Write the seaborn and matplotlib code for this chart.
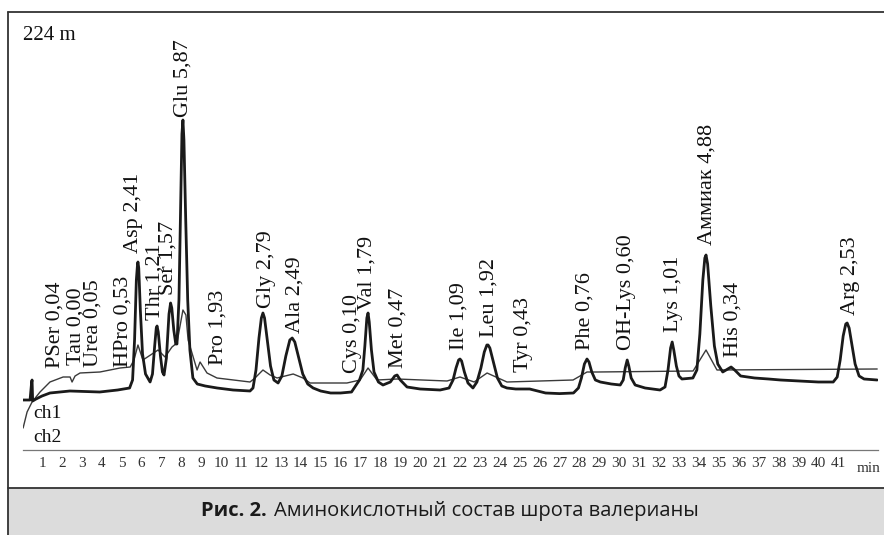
import numpy as np
import pandas as pd
import matplotlib
matplotlib.use("Agg")
import matplotlib.pyplot as plt
from matplotlib.patches import Rectangle
from matplotlib.lines import Line2D
from matplotlib.ticker import MultipleLocator
import seaborn as sns

# --- chromatogram data (time in min, detector response in arbitrary units) ---
ch1_time = [
    0.05, 0.40, 0.48, 0.50, 0.53, 0.70, 1.00, 1.40, 2.40, 3.90, 4.80, 5.40, 5.55,
    5.65, 5.74, 5.80, 5.82, 5.86, 5.94, 6.05, 6.20, 6.43,
    6.55, 6.66, 6.74, 6.78, 6.84, 6.95, 7.05, 7.13,
    7.25, 7.38, 7.46, 7.52, 7.62, 7.72, 7.78,
    7.88, 7.96, 8.03, 8.08, 8.13, 8.22, 8.32, 8.43, 8.58, 8.80, 9.20, 9.80, 10.6, 11.45,
    11.60, 11.75, 11.90, 12.02, 12.10, 12.18, 12.32, 12.48, 12.65, 12.86,
    13.05, 13.25, 13.45, 13.57, 13.70, 13.90, 14.10, 14.35, 14.62, 15.0, 15.5, 16.0,
    16.55, 16.75, 16.95,
    17.12, 17.22, 17.32, 17.38, 17.44, 17.55, 17.68, 17.90, 18.13,
    18.5, 18.72, 18.84, 19.0, 19.34, 20.0, 21.0, 21.45,
    21.65, 21.80, 21.93, 22.00, 22.08, 22.22, 22.40, 22.65,
    22.85, 23.05, 23.22, 23.35, 23.41, 23.50, 23.68, 23.88, 24.10, 24.36, 24.8, 25.5,
    26.3, 27.0, 27.7, 27.95,
    28.10, 28.25, 28.38, 28.48, 28.62, 28.80, 29.05, 29.6, 30.05,
    30.20, 30.30, 30.40, 30.48, 30.60, 30.80, 31.3, 32.05, 32.30,
    32.45, 32.58, 32.66, 32.74, 32.87, 33.00, 33.15, 33.70, 33.90,
    34.05, 34.20, 34.30, 34.36, 34.44, 34.60, 34.78, 34.95, 35.20,
    35.45, 35.62, 35.80, 36.10, 36.8, 37.5, 38.1, 39.0, 40.0, 40.75,
    40.95, 41.10, 41.25, 41.38, 41.45, 41.55, 41.70, 41.85, 42.05, 42.30, 42.96,
]
ch1_signal = [
    25.0, 25.0, 34.0, 35.0, 24.5, 25.5, 27.0, 28.5, 29.5, 29.0, 30.0, 31.0, 35.0,
    55.0, 85.0, 93.0, 94.0, 91.0, 70.0, 48.0, 38.0, 34.0,
    38.0, 52.0, 61.0, 62.0, 59.0, 47.0, 39.0, 37.5,
    46.0, 68.0, 73.5, 71.0, 60.0, 53.0, 53.0,
    75.0, 120.0, 158.0, 165.0, 155.0, 115.0, 75.0, 50.0, 36.0, 33.0, 32.0, 31.0, 30.0, 29.5,
    31.0, 40.0, 56.0, 66.0, 68.5, 66.0, 55.0, 42.0, 35.0, 33.5,
    37.0, 47.0, 55.0, 56.0, 54.0, 46.0, 38.0, 33.0, 31.0, 29.5, 28.5, 28.5,
    29.0, 32.0, 35.0,
    40.0, 52.0, 66.0, 68.5, 64.0, 50.0, 39.0, 34.0, 32.5,
    34.0, 37.0, 37.5, 35.0, 31.5, 30.5, 30.0, 31.0,
    35.0, 41.0, 45.0, 45.5, 44.5, 39.0, 33.5, 31.0,
    34.0, 41.0, 49.0, 52.5, 52.5, 51.0, 44.0, 36.0, 32.0, 31.0, 30.5, 30.5,
    28.5, 28.2, 28.5, 31.0,
    36.0, 43.0, 45.5, 44.0, 39.0, 35.0, 34.0, 33.0, 32.5,
    35.0, 41.0, 45.0, 42.0, 36.0, 32.5, 31.0, 30.0, 31.5,
    40.0, 51.0, 54.0, 50.0, 42.0, 37.0, 35.5, 36.0, 40.0,
    58.0, 85.0, 96.0, 97.5, 93.0, 72.0, 52.0, 43.0, 39.0,
    40.5, 41.5, 40.0, 37.0, 36.0, 35.5, 35.0, 34.5, 34.0, 34.0,
    36.5, 45.0, 57.0, 63.0, 63.5, 61.0, 52.0, 43.0, 37.0, 35.5, 35.0,
]

ch2_time = [
    0.05, 0.25, 0.50, 0.90, 1.40, 2.06, 2.41, 2.51, 2.66, 2.91, 3.91, 4.92, 5.43,
    5.62, 5.82, 6.07, 6.83, 7.18, 7.53, 7.78, 8.08, 8.23, 8.34, 8.79, 8.94, 9.29,
    9.79, 11.45, 11.70, 12.10, 12.46, 12.81, 13.62, 14.11, 14.47, 16.32, 16.98,
    17.38, 17.83, 18.84, 21.35, 22.00, 22.71, 23.36, 24.36, 27.68, 28.38, 28.88,
    33.71, 34.36, 34.91, 42.96,
]
ch2_signal = [
    11.0, 19.0, 24.0, 29.0, 34.0, 36.5, 36.5, 34.0, 37.0, 38.5, 39.0, 41.0, 41.5,
    45.0, 52.5, 45.0, 50.0, 46.5, 51.5, 53.5, 70.0, 67.5, 55.0, 40.0, 44.0, 38.5,
    36.0, 34.0, 36.0, 40.0, 37.5, 36.0, 38.0, 36.0, 33.5, 33.5, 35.0,
    41.0, 35.0, 35.5, 34.5, 36.5, 34.0, 38.5, 34.0, 35.0, 39.0, 39.0,
    39.5, 50.0, 40.0, 40.5,
]

# --- peak annotations ---
compounds = ["PSer", "Tau", "Urea", "HPro", "Asp", "Thr", "Ser", "Glu", "Pro",
             "Gly", "Ala", "Cys", "Val", "Met", "Ile", "Leu", "Tyr", "Phe",
             "OH-Lys", "Lys", "Аммиак", "His", "Arg"]
amounts = [0.04, 0.00, 0.05, 0.53, 2.41, 1.21, 1.57, 5.87, 1.93,
           2.79, 2.49, 0.10, 1.79, 0.47, 1.09, 1.92, 0.43, 0.76,
           0.60, 1.01, 4.88, 0.34, 2.53]
retention = [1.65, 2.71, 3.56, 5.07, 5.62, 6.68, 7.33, 8.08, 9.84,
             12.26, 13.71, 16.58, 17.33, 18.89, 21.95, 23.46, 25.17, 28.29,
             30.35, 32.71, 34.42, 35.72, 41.60]

# label placement (bottom of each rotated label, response units)
label_base = [41, 42.5, 41.5, 41.5, 98.5, 65, 77.5, 166.5, 42.5,
              71, 58.5, 38.5, 70, 41, 50, 56.5, 39, 50,
              50, 59, 102.5, 46.5, 67.5]

sns.set_style("white")
plt.rcParams["font.family"] = ["Liberation Serif", "DejaVu Serif"]

W, H = 884, 535
fig = plt.figure(figsize=(W / 100, H / 100), dpi=100)

# caption band and frame
fig.patches.append(Rectangle((8 / W, 0), 1 - 8 / W, 1 - 488 / H,
                             transform=fig.transFigure, facecolor="#dcdcdc",
                             edgecolor="none", zorder=0))
for xs, ys in [([8, 8], [0, H - 12]), ([8, W], [H - 12, H - 12]),
               ([8, W], [H - 488, H - 488])]:
    fig.lines.append(Line2D([x / W for x in xs], [y / H for y in ys],
                            transform=fig.transFigure, color="#333333", lw=1.3))

ax = fig.add_axes([23 / W, 1 - 450 / H, (878 - 23) / W, (450 - 12) / H])
ax.set_facecolor("none")

df1 = pd.DataFrame({"time": ch1_time, "signal": ch1_signal})
df2 = pd.DataFrame({"time": ch2_time, "signal": ch2_signal})
sns.lineplot(data=df2, x="time", y="signal", ax=ax, color="#3a3a3a", lw=1.0,
             estimator=None, sort=False)
sns.lineplot(data=df1, x="time", y="signal", ax=ax, color="#1a1a1a", lw=2.0,
             estimator=None, sort=False)

ax.set_xlim(0.045, 43.0)
ax.set_ylim(0, 219)
for s in ["top", "right", "left"]:
    ax.spines[s].set_visible(False)
ax.spines["bottom"].set_color("#777777")
ax.spines["bottom"].set_linewidth(0.9)
ax.set_yticks([])
ax.set_xlabel("")
ax.set_ylabel("")
ax.xaxis.set_minor_locator(MultipleLocator(0.5))
ax.set_xticks(range(1, 42))
ax.tick_params(axis="x", which="major", direction="out", length=3, width=0.7,
               color="#777777", pad=2, labelsize=11, labelcolor="#333333")
ax.tick_params(axis="x", which="minor", direction="out", length=1.5, width=0.5,
               color="#999999")
ax.text(42.55, -9.5, "min", fontsize=11, color="#333333", ha="center", va="center",
        clip_on=False)

for name, val, t, base in zip(compounds, amounts, retention, label_base):
    txt = f"{name} {val:.2f}".replace(".", ",")
    ax.text(t, base, txt, rotation=90, ha="center", va="bottom",
            fontsize=16, color="#111111")

ax.text(0.05, 207, "224 m", fontsize=15, ha="left", va="center", color="#111111")
ax.text(0.55, 18.5, "ch1", fontsize=14, ha="left", va="center", color="#111111")
ax.text(0.55, 6.5, "ch2", fontsize=14, ha="left", va="center", color="#111111")

# caption: bold figure number + regular title, centred as one line
cap_font = ["Open Sans", "DejaVu Sans"]
cap_y = 1 - 511 / H
t1 = fig.text(0, cap_y, "Рис. 2.", fontsize=14.5, fontweight="bold",
              family=cap_font, ha="left", va="center", color="#1a1a1a")
t2 = fig.text(0, cap_y, "Аминокислотный состав шрота валерианы", fontsize=14.5,
              family=cap_font, ha="left", va="center", color="#1a1a1a")
r = fig.canvas.get_renderer()
w1 = t1.get_window_extent(r).width
w2 = t2.get_window_extent(r).width
gap = 7
x0 = 450 - (w1 + gap + w2) / 2
t1.set_x(x0 / W)
t2.set_x((x0 + w1 + gap) / W)

fig.savefig("out.png", dpi=100)
